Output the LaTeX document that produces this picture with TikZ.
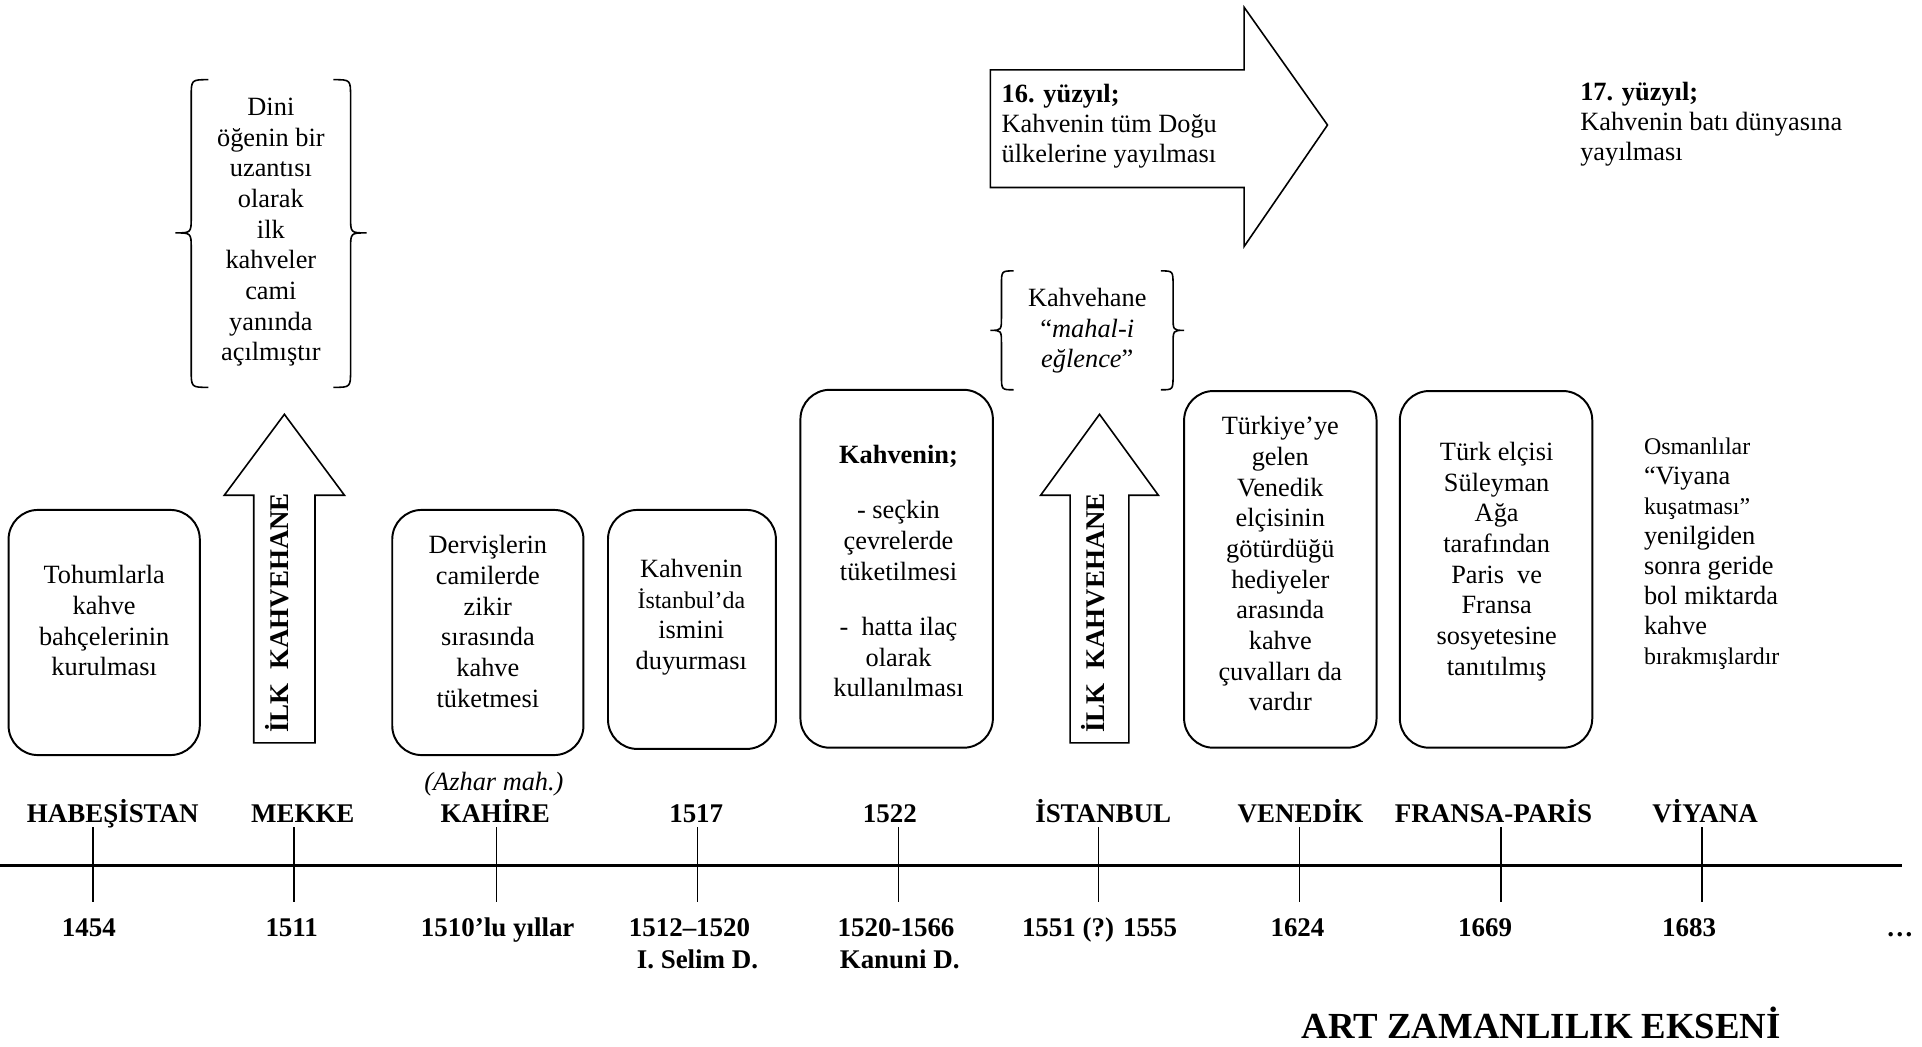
\documentclass[tikz,border=0pt]{standalone}
\usepackage{fontspec}
\setmainfont{Liberation Serif}
\newcommand{\bodyf}{\fontsize{21.5}{25}\selectfont}
\newcommand{\smallf}{\fontsize{19.5}{25}\selectfont}
\begin{document}
\begin{tikzpicture}[x=1pt,y=-1pt,
  txt/.style={font=\bodyf, align=center, inner sep=0pt},
  ltxt/.style={font=\fontsize{21.5}{24.5}\selectfont, align=left, inner sep=0pt, anchor=west},
  lbl/.style={font=\fontsize{22}{26}\selectfont\bfseries, inner sep=0pt, anchor=base},
  rbox/.style={draw, line width=1.6pt, rounded corners=24pt},
  blk/.style={draw, line width=1.3pt, line join=miter},
  brace/.style={draw, line width=1.3pt},
  axis/.style={line width=2pt},
  tick/.style={line width=1.2pt}
]
\useasboundingbox (0,0) rectangle (1568,854);

% braces
\draw[brace] (170,65) .. controls (156,65) .. (156,79) -- (156,177) .. controls (156,190) .. (143,190) .. controls (156,190) .. (156,203) -- (156,302) .. controls (156,316) .. (170,316);
\draw[brace] (272,65) .. controls (286,65) .. (286,79) -- (286,177) .. controls (286,190) .. (299,190) .. controls (286,190) .. (286,203) -- (286,302) .. controls (286,316) .. (272,316);
\draw[brace] (827,221) .. controls (817,221) .. (817,233) -- (817,258) .. controls (817,269.5) .. (808,269.5) .. controls (817,269.5) .. (817,281) -- (817,306) .. controls (817,318) .. (827,318);
\draw[brace] (947,221) .. controls (957,221) .. (957,233) -- (957,258) .. controls (957,269.5) .. (966,269.5) .. controls (957,269.5) .. (957,281) -- (957,306) .. controls (957,318) .. (947,318);

% rounded boxes
\draw[rbox] (7,416) rectangle (163,616);
\draw[rbox] (320,416) rectangle (476,616);
\draw[rbox] (496,416) rectangle (633,611);
\draw[rbox] (653,318) rectangle (810,610);
\draw[rbox] (966,319) rectangle (1123,610);
\draw[rbox] (1142,319) rectangle (1299,610);

% block arrows
\draw[blk] (207,606) -- (207,404) -- (183,404) -- (232,338) -- (281,404) -- (257,404) -- (257,606) -- cycle;
\draw[blk] (873,606) -- (873,404) -- (849,404) -- (897,338) -- (945,404) -- (921,404) -- (921,606) -- cycle;
\draw[blk] (808,57) -- (1015,57) -- (1015,6) -- (1083,102) -- (1015,201) -- (1015,153) -- (808,153) -- cycle;

\node[font=\fontsize{22}{26}\selectfont\bfseries, inner sep=0pt, rotate=90] (ilk1) at (226,500) {İLK\ \ KAHVEHANE};
\node[font=\fontsize{22}{26}\selectfont\bfseries, inner sep=0pt, rotate=90] (ilk2) at (892,500) {İLK\ \ KAHVEHANE};

% texts
\node[txt] (t1) at (85,506.5) {Tohumlarla\\kahve\\bahçelerinin\\kurulması};
\node[txt] (t2) at (221,189.5) {Dini\\öğenin bir\\uzantısı\\olarak\\ilk\\kahveler\\cami\\yanında\\açılmıştır};
\node[txt] (t3) at (398,507) {Dervişlerin\\camilerde\\zikir\\sırasında\\kahve\\tüketmesi};
\node[txt] (t4) at (564,503.5) {Kahvenin\\{\smallf İstanbul’da}\\ismini\\duyurması};
\node[txt] (t5) at (733,466) {\textbf{Kahvenin;}\\[20pt]- seçkin\\çevrelerde\\tüketilmesi\\[20pt]-\ \ hatta ilaç\\olarak\\kullanılması};
\node[txt] (t6) at (887,270) {Kahvehane\\“\textit{mahal-i}\\\textit{eğlence}”};
\node[txt] (t7) at (1044.5,460) {Türkiye’ye\\gelen\\Venedik\\elçisinin\\götürdüğü\\hediyeler\\arasında\\kahve\\çuvalları da\\vardır};
\node[txt] (t8) at (1221,458) {Türk elçisi\\Süleyman\\Ağa\\tarafından\\Paris\ \ ve\\Fransa\\sosyetesine\\tanıtılmış};
\node[ltxt] (t9) at (1341,452) {{\smallf Osmanlılar}\\“Viyana\\{\smallf kuşatması”}\\yenilgiden\\sonra geride\\bol miktarda\\kahve\\{\smallf bırakmışlardır}};
\node[ltxt] (t10) at (817,103) {\textbf{16. yüzyıl;}\\Kahvenin tüm Doğu\\ülkelerine yayılması};
\node[ltxt] (t11) at (1289,101) {\textbf{17. yüzyıl;}\\Kahvenin batı dünyasına\\yayılması};

% timeline
\coordinate (a0) at (0,706);
\coordinate (a1) at (1552,706);
\draw[axis] (a0) -- (a1);
\foreach \x in {76,240,405,569,733,896,1060,1224.5,1388.5}
  \draw[tick] (\x,675) -- (\x,736);

\node[lbl] (p1) at (92,671) {HABEŞİSTAN};
\node[lbl] (p2) at (247,671) {MEKKE};
\node[lbl] (p3) at (404,671) {KAHİRE};
\node[lbl] (p4) at (568,671) {1517};
\node[lbl] (p5) at (726,671) {1522};
\node[lbl] (p6) at (900,671) {İSTANBUL};
\node[lbl] (p7) at (1061,671) {VENEDİK};
\node[lbl] (p8) at (1218.5,671) {FRANSA-PARİS};
\node[lbl] (p9) at (1391,671) {VİYANA};
\node[font=\bodyf\itshape, inner sep=0pt, anchor=base] (az) at (403,645) {(Azhar mah.)};

\node[lbl] (y1) at (72.5,764) {1454};
\node[lbl] (y2) at (238,764) {1511};
\node[lbl] (y3) at (406,764) {1510’lu yıllar};
\node[lbl] (y4) at (562.5,764) {1512–1520};
\node[lbl] (y4b) at (569,790) {I. Selim D.};
\node[lbl] (y5) at (731,764) {1520-1566};
\node[lbl] (y5b) at (734,790) {Kanuni D.};
\node[lbl] (y6) at (897,764) {1551 (?) 1555};
\node[lbl] (y7) at (1058.5,764) {1624};
\node[lbl] (y8) at (1211.5,764) {1669};
\node[lbl] (y9) at (1378,764) {1683};
\node[lbl] (y10) at (1550,764) {…};

\node[font=\fontsize{30}{36}\selectfont\bfseries, inner sep=0pt, anchor=base] (title) at (1257.5,847) {ART ZAMANLILIK EKSENİ};
\end{tikzpicture}
\end{document}
